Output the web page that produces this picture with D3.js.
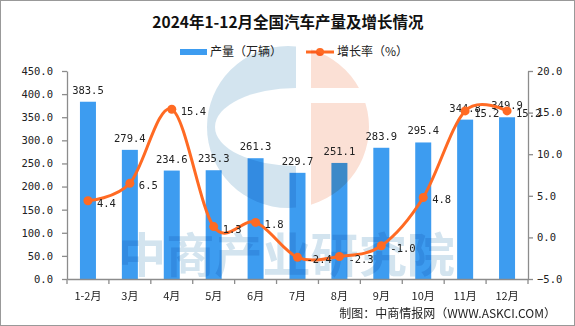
<!DOCTYPE html>
<html><head><meta charset="utf-8">
<script src="https://cdn.jsdelivr.net/npm/d3@7"></script>
<style>
html,body{margin:0;padding:0;background:#fff;}
svg{display:block;}
.wm{mix-blend-mode:multiply;}
</style></head>
<body><svg id="c" width="575" height="326"></svg>
<script>
const categories = ["1-2月","3月","4月","5月","6月","7月","8月","9月","10月","11月","12月"];
const production = [383.5,279.4,234.6,235.3,261.3,229.7,251.1,283.9,295.4,344.8,349.9];
const growth = [4.4,6.5,15.4,1.3,1.8,-2.4,-2.3,-1.0,4.8,15.2,15.2];
const leftTicks = [0,50,100,150,200,250,300,350,400,450];
const rightTicks = [-5,0,5,10,15,20];
const title = "2024年1-12月全国汽车产量及增长情况";
const seriesNames = ["产量（万辆）","增长率（%）"];
const source = "制图：中商情报网（WWW.ASKCI.COM）";

const svg = d3.select("#c");
const W=575,H=326;
const L=67,R=528,T=71,B=279;
const numFont = "'DejaVu Sans Mono','Noto Sans CJK SC',monospace";
const cjkFont = "'Noto Sans CJK SC',sans-serif";
const barColor="#3d9cf0", lineColor="#ff6a23", axisColor="#8c8c8c";

svg.append("rect").attr("x",0.5).attr("y",0.5).attr("width",W-1).attr("height",H-1)
  .attr("fill","#fff").attr("stroke","#999");

const x = d3.scaleBand().domain(categories).range([L,R]).paddingInner(0).paddingOuter(0);
const yL = d3.scaleLinear().domain([0,450]).range([B,T]);
const yR = d3.scaleLinear().domain([-5,20]).range([B,T]);

// title
svg.append("text").attr("x",288).attr("y",28).attr("text-anchor","middle")
  .attr("font-family",cjkFont).attr("font-weight","bold").attr("font-size",15.5).attr("fill","#111").text(title);

// legend
svg.append("rect").attr("x",180).attr("y",49).attr("width",27).attr("height",6).attr("fill",barColor);
svg.append("text").attr("x",210).attr("y",56).attr("font-family",cjkFont).attr("font-size",12).attr("fill","#222").text(seriesNames[0]);
svg.append("line").attr("x1",306).attr("x2",334).attr("y1",52).attr("y2",52).attr("stroke",lineColor).attr("stroke-width",3);
svg.append("circle").attr("cx",320).attr("cy",52).attr("r",4).attr("fill",lineColor);
svg.append("text").attr("x",337).attr("y",56).attr("font-family",cjkFont).attr("font-size",12).attr("fill","#222").text(seriesNames[1]);

// bars
const bw=16;
svg.append("g").selectAll("rect").data(production).join("rect")
  .attr("x",(d,i)=>x(categories[i])+x.bandwidth()/2-bw/2)
  .attr("y",d=>yL(d)).attr("width",bw).attr("height",d=>B-yL(d)).attr("fill",barColor);

// watermark
const wm = svg.append("g").attr("class","wm");
const defs = svg.append("defs");
const cx0=288, cy0=127, r0=81;
defs.append("clipPath").attr("id","cl").append("rect").attr("x",cx0-r0-2).attr("y",cy0-r0-2).attr("width",296-(cx0-r0-2)).attr("height",2*r0+4);
const mask = defs.append("mask").attr("id","mk");
mask.append("rect").attr("x",0).attr("y",0).attr("width",W).attr("height",H).attr("fill","#fff");
mask.append("ellipse").attr("cx",296).attr("cy",cy0).attr("rx",81).attr("ry",39).attr("fill","#000");
wm.append("circle").attr("cx",cx0).attr("cy",cy0).attr("r",r0).attr("fill","#d3e4ef")
  .attr("clip-path","url(#cl)").attr("mask","url(#mk)");
defs.append("clipPath").attr("id","cr").append("rect").attr("x",311).attr("y",cy0-r0-2).attr("width",r0+10).attr("height",2*r0+4);
const mask2 = defs.append("mask").attr("id","mk2");
mask2.append("rect").attr("x",0).attr("y",0).attr("width",W).attr("height",H).attr("fill","#fff");
mask2.append("rect").attr("x",300).attr("y",88).attr("width",100).attr("height",15).attr("fill","#000");
wm.append("circle").attr("cx",cx0).attr("cy",cy0).attr("r",r0).attr("fill","#fbe0d5")
  .attr("clip-path","url(#cr)").attr("mask","url(#mk2)");
wm.append("text").attr("x",118).attr("y",272).attr("textLength",337).attr("lengthAdjust","spacingAndGlyphs")
  .attr("font-family",cjkFont).attr("font-weight","bold").attr("font-size",47).attr("fill","#d3e4ef").text("中商产业研究院");

// axes
const gL = svg.append("g").attr("transform",`translate(${L},0)`)
  .call(d3.axisLeft(yL).tickValues(leftTicks).tickFormat(d3.format(".1f")).tickSize(5).tickSizeOuter(0));
const gR = svg.append("g").attr("transform",`translate(${R},0)`)
  .call(d3.axisRight(yR).tickValues(rightTicks).tickFormat(d3.format(".1f")).tickSize(5).tickSizeOuter(0));
const gB = svg.append("g").attr("transform",`translate(0,${B})`)
  .call(d3.axisBottom(x).tickSize(0).tickSizeOuter(0));
[gL,gR,gB].forEach(g=>{
  g.select(".domain").attr("stroke",axisColor).attr("stroke-width",1.3);
  g.selectAll(".tick line").attr("stroke",axisColor).attr("stroke-width",1.3);
  g.selectAll("text").attr("fill","#222").attr("font-family",numFont).attr("font-size",10.5);
});
gL.selectAll(".tick text").attr("x",-14);
gR.selectAll(".tick text").attr("x",9);
gB.selectAll(".tick text").attr("font-family",cjkFont).attr("font-size",11).attr("dy","0").attr("y",21);
// band boundary ticks on x-axis
const bounds = categories.map(c=>x(c)).concat([R]);
gB.selectAll(".bt").data(bounds).join("line").attr("class","bt")
  .attr("x1",d=>d).attr("x2",d=>d).attr("y1",0).attr("y2",5).attr("stroke",axisColor).attr("stroke-width",1.3);

// bar labels
svg.append("g").selectAll("text").data(production).join("text")
  .attr("x",(d,i)=>x(categories[i])+x.bandwidth()/2).attr("y",d=>yL(d)-8)
  .attr("text-anchor","middle").attr("font-family",numFont).attr("font-size",10.5).attr("fill","#222")
  .text(d=>d.toFixed(1));

// line
const px = i=>x(categories[i])+x.bandwidth()/2;
const line = d3.line().x((d,i)=>px(i)).y(d=>yR(d)).curve(d3.curveCatmullRom.alpha(0));
svg.append("path").datum(growth).attr("d",line).attr("fill","none").attr("stroke",lineColor).attr("stroke-width",3);
svg.append("g").selectAll("circle").data(growth).join("circle")
  .attr("cx",(d,i)=>px(i)).attr("cy",d=>yR(d)).attr("r",4.5).attr("fill",lineColor);
svg.append("g").selectAll("text").data(growth).join("text")
  .attr("x",(d,i)=>px(i)+9).attr("y",d=>yR(d)+6)
  .attr("font-family",numFont).attr("font-size",10.5).attr("fill","#222")
  .text(d=>d.toFixed(1));

// source
svg.append("text").attr("x",556).attr("y",318).attr("text-anchor","end")
  .attr("font-family",cjkFont).attr("font-size",12).attr("fill","#222").text(source);
</script></body></html>
